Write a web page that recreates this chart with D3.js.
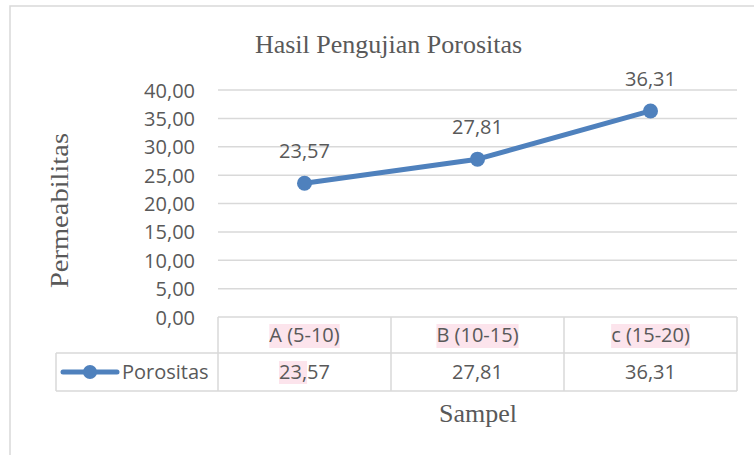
<!DOCTYPE html>
<html>
<head>
<meta charset="utf-8">
<script src="https://cdn.jsdelivr.net/npm/d3@7"></script>
<style>
  html, body { margin: 0; padding: 0; background: #fff; }
  svg { display: block; }
</style>
</head>
<body>
<svg id="chart" width="754" height="455"></svg>
<script>
const categories = ["A (5-10)", "B (10-15)", "c (15-20)"];
const porositas = [23.57, 27.81, 36.31];
const seriesName = "Porositas";
const yTicks = [0, 5, 10, 15, 20, 25, 30, 35, 40];
const chartTitle = "Hasil Pengujian Porositas";
const yTitle = "Permeabilitas";
const xTitle = "Sampel";

const fmt = v => d3.format(".2f")(v).replace(".", ",");

const svg = d3.select("#chart");
const W = 754, H = 455;
const plotL = 218, plotR = 737, plotT = 90, plotB = 317;
const row1B = 353, row2B = 391, legendL = 56;
const textCol = "#595959", gridCol = "#d9d9d9", lineCol = "#4f81bd";
const sans = "'Open Sans', sans-serif", serif = "'Liberation Serif', 'Times New Roman', serif";

// outer frame (left + top visible)
svg.append("path")
  .attr("d", `M10,${H} L10,6 L${W},6`)
  .attr("fill", "none").attr("stroke", gridCol).attr("stroke-width", 1.5);

const x = d3.scaleBand().domain(categories).range([plotL, plotR]);
const y = d3.scaleLinear().domain([0, 40]).range([plotB, plotT]);

// gridlines
svg.append("g").selectAll("line").data(yTicks.filter(d => d > 0)).join("line")
  .attr("x1", plotL).attr("x2", plotR)
  .attr("y1", d => y(d)).attr("y2", d => y(d))
  .attr("stroke", gridCol).attr("stroke-width", 1.5);

// y axis labels
const yAxis = d3.axisLeft(y).tickValues(yTicks).tickFormat(fmt).tickSize(0).tickPadding(0);
const ya = svg.append("g").attr("transform", `translate(195,0)`).call(yAxis);
ya.select(".domain").remove();
ya.selectAll("text").attr("font-family", sans).attr("font-size", 20).attr("fill", textCol)
  .attr("dy", "0.35em");

// data table
const tbl = svg.append("g").attr("stroke", gridCol).attr("stroke-width", 1.5).attr("fill", "none");
tbl.append("line").attr("x1", plotL).attr("x2", plotR).attr("y1", plotB).attr("y2", plotB);
tbl.append("line").attr("x1", legendL).attr("x2", plotR).attr("y1", row1B).attr("y2", row1B);
tbl.append("line").attr("x1", legendL).attr("x2", plotR).attr("y1", row2B).attr("y2", row2B);
tbl.append("line").attr("x1", legendL).attr("x2", legendL).attr("y1", row1B).attr("y2", row2B);
const vEdges = categories.map(c => x(c)).concat([plotR]);
tbl.selectAll(".v").data(vEdges).join("line").attr("class", "v")
  .attr("x1", d => d).attr("x2", d => d).attr("y1", plotB).attr("y2", row2B);

// category labels with pink highlight
const catG = svg.append("g");
categories.forEach(c => {
  const cx = x(c) + x.bandwidth() / 2;
  const hl = catG.append("rect").attr("fill", "#fce4ec");
  const t = catG.append("text").attr("x", cx).attr("y", 335).attr("dy", "0.35em")
    .attr("text-anchor", "middle").attr("font-family", sans).attr("font-size", 20)
    .attr("fill", textCol).text(c);
  const w = t.node().getComputedTextLength();
  hl.attr("x", cx - w / 2).attr("y", 324).attr("width", w).attr("height", 24);
});

// value row
const valG = svg.append("g");
porositas.forEach((v, i) => {
  const cx = x(categories[i]) + x.bandwidth() / 2;
  const hl = valG.append("rect").attr("fill", "#fce4ec");
  const t = valG.append("text").attr("x", cx).attr("y", 372).attr("dy", "0.35em")
    .attr("text-anchor", "middle").attr("font-family", sans).attr("font-size", 20)
    .attr("fill", textCol).text(fmt(v));
  if (i === 0) {
    const w = t.node().getComputedTextLength();
    const sw = t.node().getSubStringLength(0, 3);
    hl.attr("x", cx - w / 2).attr("y", 361).attr("width", sw).attr("height", 23);
  } else hl.remove();
});

// legend key
const lg = svg.append("g");
lg.append("line").attr("x1", 63).attr("x2", 117).attr("y1", 372).attr("y2", 372)
  .attr("stroke", lineCol).attr("stroke-width", 5).attr("stroke-linecap", "round");
lg.append("circle").attr("cx", 90).attr("cy", 372).attr("r", 7).attr("fill", lineCol);
lg.append("text").attr("x", 122).attr("y", 372).attr("dy", "0.35em")
  .attr("font-family", sans).attr("font-size", 20).attr("fill", textCol).text(seriesName);

// series line
const pts = porositas.map((v, i) => [x(categories[i]) + x.bandwidth() / 2, y(v)]);
svg.append("path").attr("d", d3.line()(pts)).attr("fill", "none")
  .attr("stroke", lineCol).attr("stroke-width", 5).attr("stroke-linejoin", "round").attr("stroke-linecap", "round");
svg.append("g").selectAll("circle").data(pts).join("circle")
  .attr("cx", d => d[0]).attr("cy", d => d[1]).attr("r", 7.5).attr("fill", lineCol);

// data labels
svg.append("g").selectAll("text").data(porositas).join("text")
  .attr("x", (d, i) => x(categories[i]) + x.bandwidth() / 2)
  .attr("y", d => y(d) - 25)
  .attr("text-anchor", "middle").attr("font-family", sans).attr("font-size", 20)
  .attr("fill", textCol).text(d => fmt(d));

// titles
svg.append("text").attr("x", 388.5).attr("y", 53).attr("text-anchor", "middle")
  .attr("font-family", serif).attr("font-size", 26).attr("fill", textCol).text(chartTitle);
svg.append("text").attr("transform", "translate(68,210.5) rotate(-90)")
  .attr("text-anchor", "middle").attr("font-family", serif).attr("font-size", 25)
  .attr("textLength", 155).attr("lengthAdjust", "spacingAndGlyphs")
  .attr("fill", textCol).text(yTitle);
svg.append("text").attr("x", 478).attr("y", 422).attr("text-anchor", "middle")
  .attr("font-family", serif).attr("font-size", 26).attr("fill", textCol).text(xTitle);
</script>
</body>
</html>
